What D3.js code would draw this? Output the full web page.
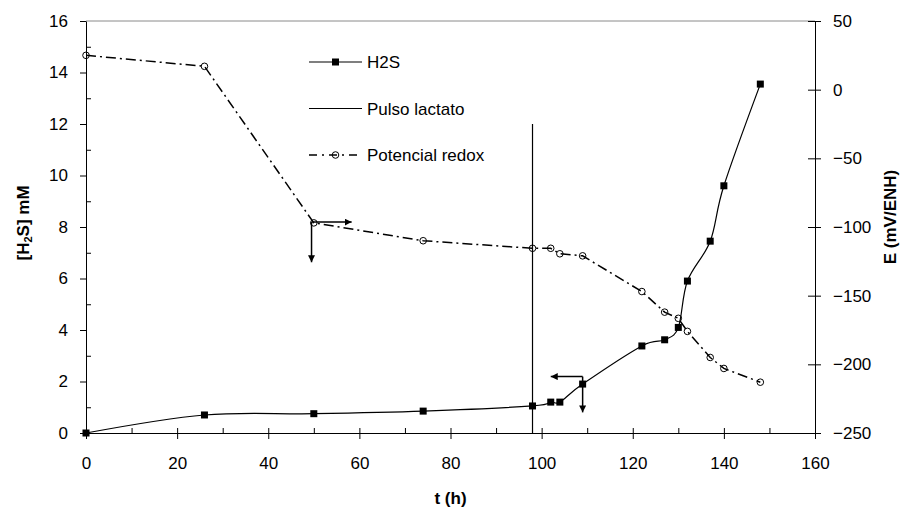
<!DOCTYPE html>
<html>
<head>
<meta charset="utf-8">
<script src="https://cdn.jsdelivr.net/npm/d3@7"></script>
<style>
  html, body { margin: 0; padding: 0; background: #fff; }
  svg { display: block; font-family: "Liberation Sans", Arial, sans-serif; }
</style>
</head>
<body>
<svg id="chart" width="904" height="511"></svg>
<script>
// Sampling times (h)
const times = [0, 26, 50, 74, 98, 102, 104, 109, 122, 127, 130, 132, 137, 140, 148];
// Sulfide concentration [H2S] (mM)
const h2s = [0, 0.7, 0.75, 0.85, 1.05, 1.2, 1.2, 1.9, 3.38, 3.62, 4.1, 5.9, 7.45, 9.6, 13.55];
// Redox potential E (mV/ENH)
const redox = [25, 17, -97, -110, -115.5, -115.5, -119.5, -121, -147, -162, -166.5, -176, -195, -203, -213];

// Lactate pulse
const pulseTime = 98;
const pulseTop = 12;

// Axis ticks
const xTicks = d3.range(0, 161, 20);
const xMinor = d3.range(0, 161, 10);
const yLeftTicks = d3.range(0, 17, 2);
const yLeftMinor = d3.range(1, 16, 2);
const yRightTicks = d3.range(-250, 51, 50);

// Axis titles and legend entries
const xTitle = "t (h)";
const rightTitle = "E (mV/ENH)";
const legendLabels = ["H2S", "Pulso lactato", "Potencial redox"];

// Arrows pointing each series to its axis: [t, y] corner on the H2S scale
const arrows = [
  { corner: [49.5, 8.19], tips: [[58.3, 8.19], [49.5, 6.63]] },
  { corner: [109, 2.19], tips: [[102, 2.19], [109, 0.8]] }
];

const svg = d3.select("#chart");
const x = d3.scaleLinear().domain([0, 160]).range([86, 815]);
const yL = d3.scaleLinear().domain([0, 16]).range([433, 21]);
const yR = d3.scaleLinear().domain([-250, 50]).range([433, 21]);

const FONT = 17;

// Top frame line
svg.append("line")
  .attr("x1", x(0)).attr("x2", x(160))
  .attr("y1", yL(16)).attr("y2", yL(16))
  .attr("stroke", "#8a8a8a").attr("stroke-width", 1);

function styleAxis(g) {
  g.selectAll("path.domain").attr("stroke", "#000").attr("stroke-width", 1);
  g.selectAll(".tick line").attr("stroke", "#000").attr("stroke-width", 1);
  g.selectAll(".tick text").attr("font-size", FONT).attr("fill", "#000")
    .attr("font-family", "Liberation Sans, Arial, sans-serif");
}

// Left axis
svg.append("g").attr("transform", `translate(${x(0)},0)`)
  .call(d3.axisLeft(yL).tickValues(yLeftTicks).tickSizeInner(6).tickSizeOuter(0).tickPadding(12))
  .call(styleAxis);
svg.append("g").attr("transform", `translate(${x(0)},0)`)
  .call(d3.axisRight(yL).tickValues(yLeftMinor).tickSize(5).tickFormat(""))
  .call(styleAxis).select("path.domain").remove();

// Right axis
svg.append("g").attr("transform", `translate(${x(160)},0)`)
  .call(d3.axisRight(yR).tickValues(yRightTicks).tickSizeInner(6).tickSizeOuter(0).tickPadding(12))
  .call(styleAxis);
svg.append("g").attr("transform", `translate(${x(160)},0)`)
  .call(d3.axisLeft(yR).tickValues(yRightTicks).tickSize(7).tickFormat(""))
  .call(styleAxis).select("path.domain").remove();

// Bottom axis
svg.append("g").attr("transform", `translate(0,${yL(0)})`)
  .call(d3.axisBottom(x).tickValues(xTicks).tickSizeInner(6).tickSizeOuter(0).tickPadding(18))
  .call(styleAxis);
svg.append("g").attr("transform", `translate(0,${yL(0)})`)
  .call(d3.axisTop(x).tickValues(xMinor).tickSize(5).tickFormat(""))
  .call(styleAxis).select("path.domain").remove();

// Axis titles
svg.append("text")
  .attr("x", x(80)).attr("y", 504)
  .attr("text-anchor", "middle").attr("font-size", FONT).attr("font-weight", "bold")
  .text(xTitle);

const lt = svg.append("text")
  .attr("transform", `translate(29,${yL(8) - 4}) rotate(-90)`)
  .attr("text-anchor", "middle").attr("font-size", FONT).attr("font-weight", "bold");
lt.append("tspan").text("[H");
lt.append("tspan").attr("font-size", 11).attr("dy", 3).text("2");
lt.append("tspan").attr("dy", -3).text("S] mM");

svg.append("text")
  .attr("transform", `translate(896,${yR(-100) - 10}) rotate(-90)`)
  .attr("text-anchor", "middle").attr("font-size", FONT).attr("font-weight", "bold")
  .text(rightTitle);

// Lactate pulse line
svg.append("line")
  .attr("x1", x(pulseTime)).attr("x2", x(pulseTime))
  .attr("y1", yL(0)).attr("y2", yL(pulseTop))
  .attr("stroke", "#000").attr("stroke-width", 1.2);

const DASH = "10,4,2,4";

// Redox potential series
const redoxPts = times.map((t, i) => [t, redox[i]]);
svg.append("path")
  .datum(redoxPts)
  .attr("fill", "none").attr("stroke", "#000").attr("stroke-width", 1.5)
  .attr("stroke-dasharray", DASH)
  .attr("d", d3.line().x(d => x(d[0])).y(d => yR(d[1])));
svg.append("g").selectAll("circle").data(redoxPts).join("circle")
  .attr("cx", d => x(d[0])).attr("cy", d => yR(d[1])).attr("r", 3.3)
  .attr("fill", "none").attr("stroke", "#000").attr("stroke-width", 1);

// H2S series (smoothed)
const h2sPts = times.map((t, i) => [t, h2s[i]]);
svg.append("path")
  .datum(h2sPts)
  .attr("fill", "none").attr("stroke", "#000").attr("stroke-width", 1.2)
  .attr("d", d3.line().x(d => x(d[0])).y(d => yL(d[1])).curve(d3.curveCatmullRom.alpha(0)));
const SQ = 7;
svg.append("g").selectAll("rect").data(h2sPts).join("rect")
  .attr("x", d => x(d[0]) - SQ / 2).attr("y", d => yL(d[1]) - SQ / 2)
  .attr("width", SQ).attr("height", SQ).attr("fill", "#000");

// Arrow markers
svg.append("defs").append("marker")
  .attr("id", "head").attr("viewBox", "0 0 10 10")
  .attr("refX", 10).attr("refY", 5)
  .attr("markerWidth", 7).attr("markerHeight", 7)
  .attr("markerUnits", "userSpaceOnUse")
  .attr("orient", "auto")
  .append("path").attr("d", "M0,0L10,5L0,10z").attr("fill", "#000");

arrows.forEach(a => {
  a.tips.forEach(tip => {
    svg.append("line")
      .attr("x1", x(a.corner[0])).attr("y1", yL(a.corner[1]))
      .attr("x2", x(tip[0])).attr("y2", yL(tip[1]))
      .attr("stroke", "#000").attr("stroke-width", 1.5)
      .attr("marker-end", "url(#head)");
  });
});

// Legend
const legend = svg.append("g").attr("transform", "translate(309,0)");
const rowsY = [62, 108.5, 155];
legend.append("line").attr("x1", 0).attr("x2", 53).attr("y1", rowsY[0]).attr("y2", rowsY[0])
  .attr("stroke", "#000").attr("stroke-width", 1.2);
legend.append("rect").attr("x", 26.5 - SQ / 2).attr("y", rowsY[0] - SQ / 2)
  .attr("width", SQ).attr("height", SQ).attr("fill", "#000");
legend.append("line").attr("x1", 0).attr("x2", 53).attr("y1", rowsY[1]).attr("y2", rowsY[1])
  .attr("stroke", "#000").attr("stroke-width", 1.2);
legend.append("line").attr("x1", 0).attr("x2", 53).attr("y1", rowsY[2]).attr("y2", rowsY[2])
  .attr("stroke", "#000").attr("stroke-width", 1.5).attr("stroke-dasharray", "8,5,2,5");
legend.append("circle").attr("cx", 26.5).attr("cy", rowsY[2]).attr("r", 3.3)
  .attr("fill", "none").attr("stroke", "#000");
legendLabels.forEach((lab, i) => {
  legend.append("text").attr("x", 58).attr("y", rowsY[i] + 6)
    .attr("font-size", FONT).attr("fill", "#000").text(lab);
});
</script>
</body>
</html>
